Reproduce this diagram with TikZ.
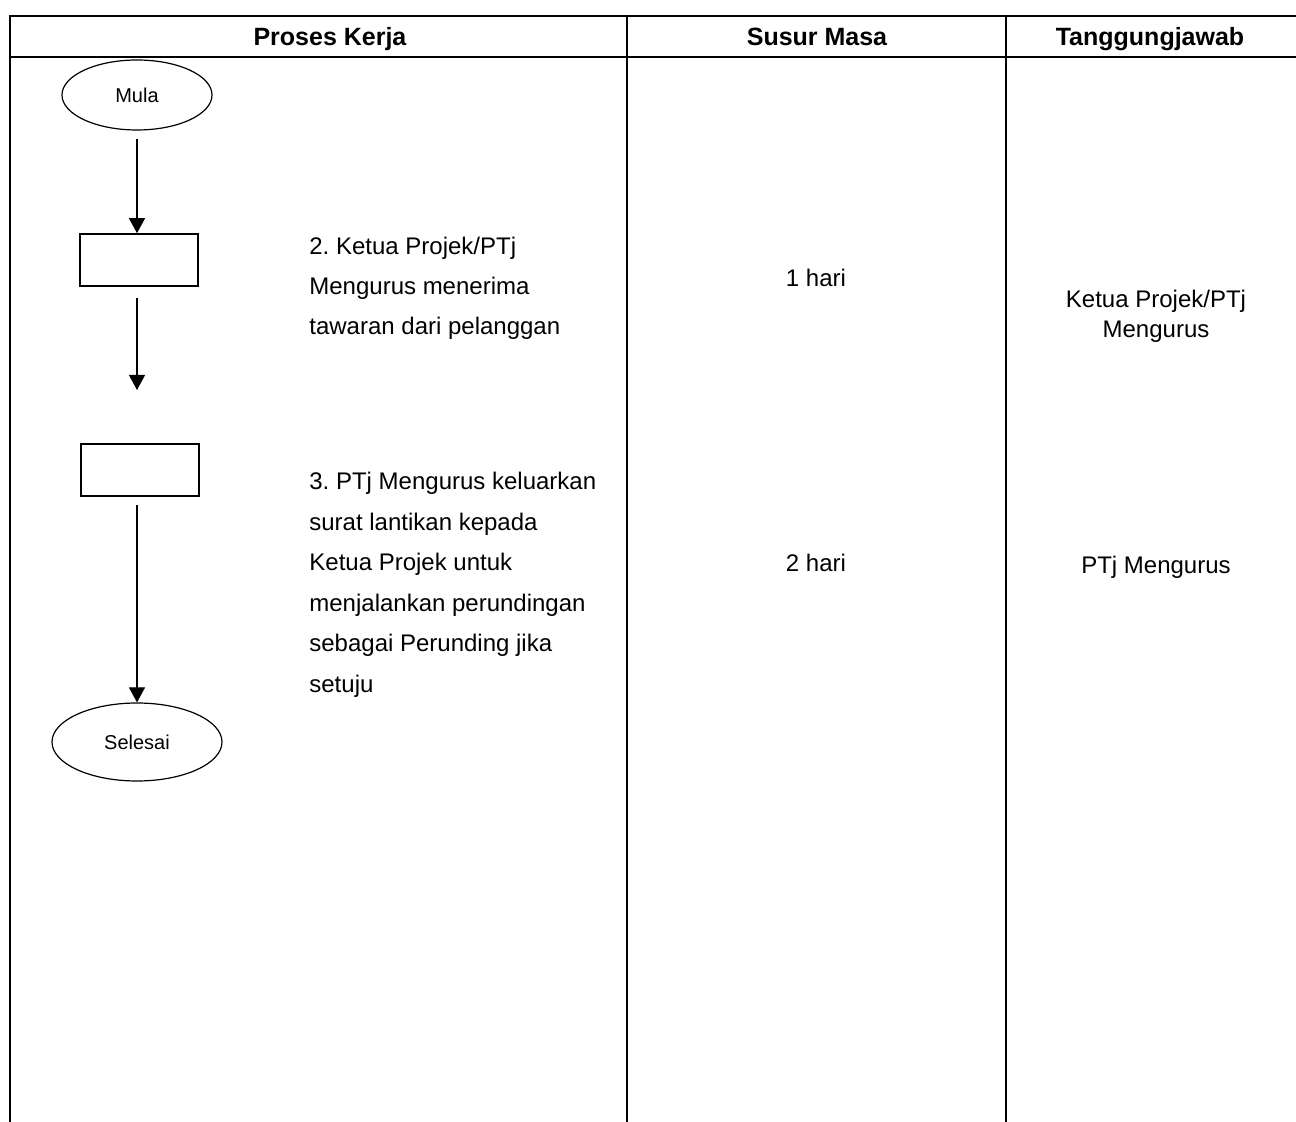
\documentclass[tikz,border=0pt]{standalone}
\usepackage{fontspec}
\setmainfont{Liberation Sans}
\frenchspacing
\usetikzlibrary{shapes.geometric,arrows.meta}

\tikzset{
  garis/.style={line width=1pt},
  terminal/.style={ellipse,draw,line width=0.6pt,minimum width=75pt,minimum height=35pt,inner sep=0pt,font=\fontsize{10}{12}\selectfont},
  kotak/.style={rectangle,draw,line width=0.8pt,minimum width=59pt,minimum height=26pt,inner sep=0pt},
  anak/.style={-{Triangle[length=7.5pt,width=8pt]},line width=0.6pt},
  tajuk/.style={anchor=base,font=\bfseries\fontsize{12.5}{14}\selectfont},
  teks/.style={align=left,inner sep=0pt,font=\fontsize{12}{20.2}\selectfont},
  masa/.style={align=center,inner sep=0pt,font=\fontsize{12}{15}\selectfont}
}

\begin{document}
\begin{tikzpicture}[x=0.5pt,y=-0.5pt]
  \useasboundingbox (0,0) rectangle (1296,1122);

  % Jadual
  \draw[garis] (1296,16) -- (10,16) -- (10,1122);
  \draw[garis] (10,57) -- (1296,57);
  \draw[garis] (627,16) -- (627,1122);
  \draw[garis] (1006,16) -- (1006,1122);

  % Tajuk
  \node[tajuk] (h1) at (330,46) {Proses Kerja};
  \node[tajuk] (h2) at (817,46) {Susur Masa};
  \node[tajuk] (h3) at (1150,46) {Tanggungjawab};

  % Carta alir
  \node[terminal] (mula) at (137,95) {Mula};
  \node[kotak] (kotak1) at (139,260) {};
  \node[kotak] (kotak2) at (140,470) {};
  \node[terminal,minimum width=85pt,minimum height=39pt] (selesai) at (137,742) {Selesai};
  \coordinate (a1) at (137,139);
  \coordinate (a2) at (137,298);
  \coordinate (b2) at (137,390);
  \coordinate (a3) at (137,505);
  \draw[anak] (a1) -- (kotak1.north -| a1);
  \draw[anak] (a2) -- (b2);
  \draw[anak] (a3) -- (selesai.north);

  % Proses (base = baris akhir)
  \node[teks,anchor=base west] (p2) at (309,335)
    {2. Ketua Projek/PTj\\Mengurus menerima\\tawaran dari pelanggan};
  \node[teks,anchor=base west] (p3) at (309,692)
    {3. PTj Mengurus keluarkan\\surat lantikan kepada\\Ketua Projek untuk\\menjalankan perundingan\\sebagai Perunding jika\\setuju};

  % Susur masa dan tanggungjawab
  \node[masa,anchor=base] (m2) at (816,287) {1 hari};
  \node[masa,anchor=base] (m3) at (816,572) {2 hari};
  \node[masa,anchor=base] (t2) at (1156,338) {Ketua Projek/PTj\\Mengurus};
  \node[masa,anchor=base] (t3) at (1156,574) {PTj Mengurus};
\end{tikzpicture}
\end{document}
